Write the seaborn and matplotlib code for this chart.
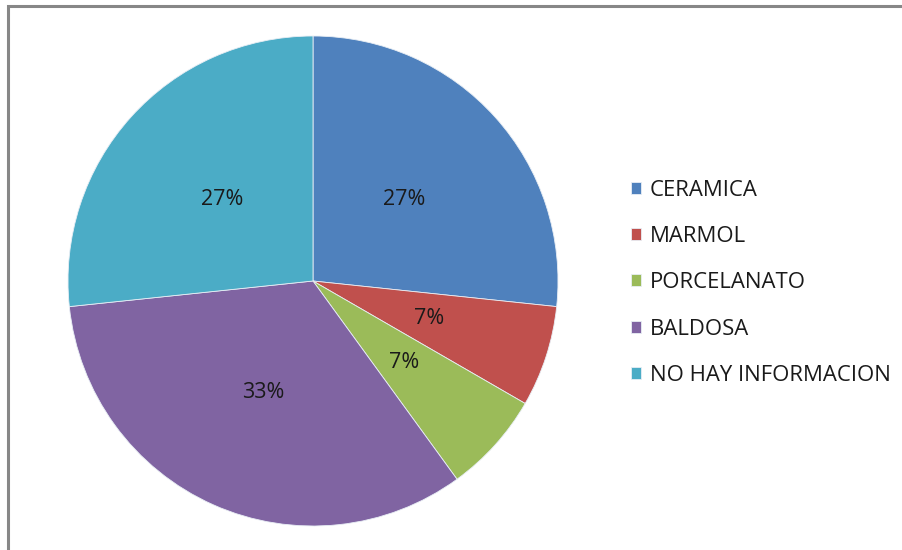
import matplotlib
matplotlib.use("Agg")
import matplotlib.pyplot as plt
import seaborn as sns
from matplotlib.patches import Rectangle

sns.set_theme(style="white")
plt.rcParams["font.family"] = ["Open Sans", "DejaVu Sans"]

# Floor material counts per category
categories = ["CERAMICA", "MARMOL", "PORCELANATO", "BALDOSA", "NO HAY INFORMACION"]
counts = [4, 1, 1, 5, 4]
colors = ["#4F81BD", "#C0504D", "#9BBB59", "#8064A2", "#4BACC6"]

W, H = 903, 550
fig = plt.figure(figsize=(W / 100, H / 100), dpi=100)
fig.patch.set_facecolor("white")

# Outer chart frame
fig.add_artist(Rectangle((8 / W, -0.05), 1.05, 1 - 6 / H + 0.05,
                         transform=fig.transFigure, fill=False,
                         edgecolor="#878787", linewidth=2.2))

cx, cy, r = 313, 281, 245
ax = fig.add_axes([(cx - r) / W, (H - cy - r) / H, 2 * r / W, 2 * r / H])
wedges, texts, autotexts = ax.pie(
    counts, colors=colors, startangle=90, counterclock=False,
    autopct=lambda p: f"{p:.0f}%", pctdistance=0.5,
    wedgeprops=dict(edgecolor="#e8eef5", linewidth=0.6),
    textprops=dict(fontsize=15.5, color="#1a1a1a"),
)
ax.set_xlim(-1, 1)
ax.set_ylim(-1, 1)
ax.set_aspect("equal")
ax.axis("off")

leg = fig.legend(wedges, categories, loc="upper left",
                 bbox_to_anchor=(631 / W, 1 - 180 / H),
                 frameon=False, fontsize=15.9, handlelength=0.46,
                 handleheight=0.46, handletextpad=0.4, labelspacing=1.14,
                 borderaxespad=0, borderpad=0)
for t in leg.get_texts():
    t.set_color("#1a1a1a")

fig.savefig("out.png", dpi=100, facecolor="white")
